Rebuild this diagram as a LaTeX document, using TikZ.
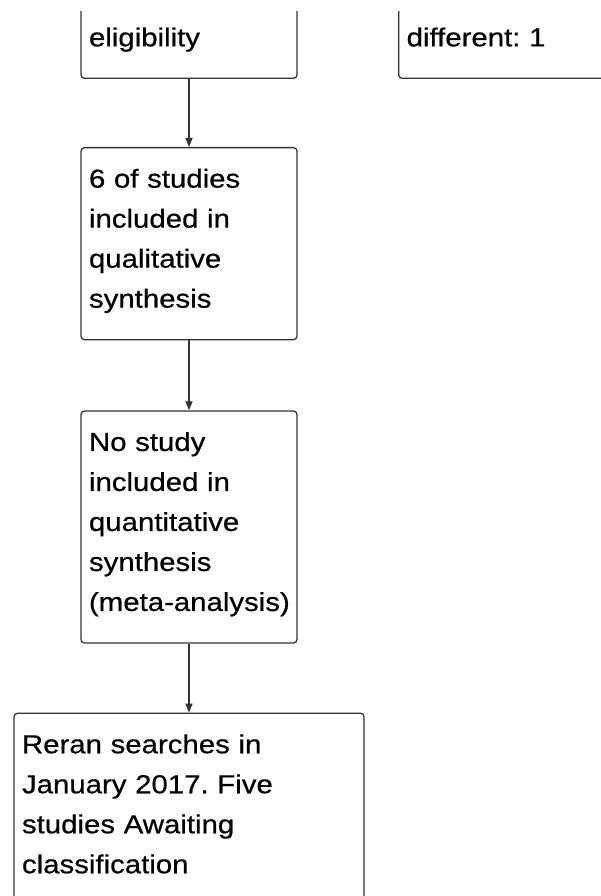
\documentclass[tikz,border=0pt]{standalone}
\usepackage{fontspec}
\newfontfamily\boxfont{Liberation Sans}[FakeStretch=1.13,FakeBold=0.6]
\usetikzlibrary{positioning}
\usetikzlibrary{arrows.meta}
\frenchspacing
\newcommand{\bstrut}{\rule[-16pt]{0pt}{40pt}}
\newcommand{\tallstrut}{\rule[-16pt]{0pt}{140pt}}
\tikzstyle{box}=[draw=black!80, line width=1.3pt, rounded corners=3.5pt, align=left, text width=200pt, inner xsep=8pt, inner ysep=16pt, font=\boxfont\fontsize{26pt}{40pt}\selectfont, execute at begin node=\bstrut, execute at end node=\bstrut]
\tikzstyle{flow}=[-{Triangle[length=9pt,width=7pt]}, line width=1.3pt, draw=black!80, fill=black!80]

\begin{document}
\begin{tikzpicture}[x=1pt,y=1pt]
\useasboundingbox (0,0) rectangle (601,-896);
\clip (0,-12) rectangle (601,-896);

%boxes cut at the top
\node[box, anchor=south] (elig) at (189,-79) {\tallstrut eligibility};
\node[box, anchor=south west] (excl) at (398,-79) {\tallstrut different: 1};

%main column
\node[box, below=68pt of elig] (qual) {6 of studies\\included in\\qualitative\\synthesis};
\node[box, below=70pt of qual] (quant) {No study\\included in\\quantitative\\synthesis\\\mbox{(meta-analysis)}};
\node[box, text width=334pt, below=69pt of quant] (rerun) {Reran searches in\\January 2017. Five\\studies Awaiting\\classification};

\foreach \source/\dest in {elig/qual, qual/quant, quant/rerun}
    \draw[flow] (\source) -- (\dest);
\end{tikzpicture}
\end{document}
